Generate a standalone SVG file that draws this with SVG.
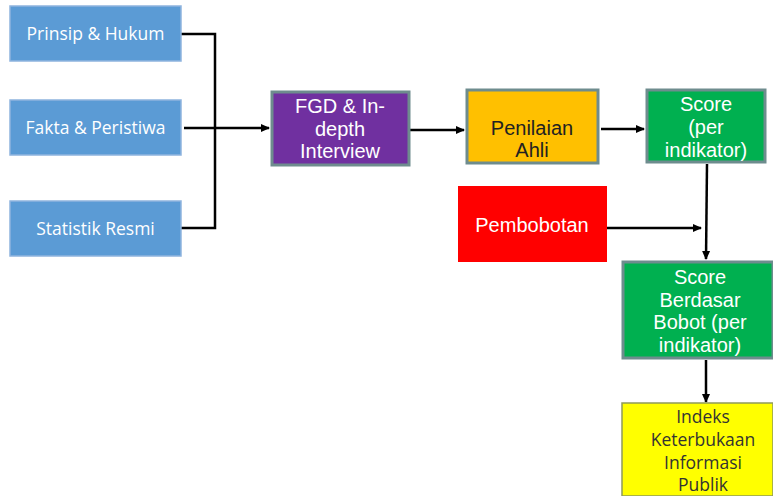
<svg xmlns="http://www.w3.org/2000/svg" width="773" height="496" viewBox="0 0 773 496">
<style>
.blue{fill:#5B9BD5;stroke:#8FB4DE;stroke-width:1.5}
.st{stroke:#6E8C8E;stroke-width:3}
.tw{fill:#fff;font-family:"Open Sans","Liberation Sans",sans-serif;font-size:17.5px;text-anchor:middle}
.ta{fill:#fff;font-family:"Liberation Sans",Arial,sans-serif;font-size:20px;text-anchor:middle}
.tk{fill:#222;font-family:"Liberation Sans",Arial,sans-serif;font-size:20px;text-anchor:middle}
.ty{fill:#333;font-family:"Open Sans","Liberation Sans",sans-serif;font-size:17.5px;text-anchor:middle}
.ln{fill:none;stroke:#000;stroke-width:2.5}
</style>
<defs>
<marker id="ah" markerWidth="10" markerHeight="10" refX="8" refY="5" orient="auto" markerUnits="userSpaceOnUse">
<path d="M0,1 L9,5 L0,9 Z" fill="#000"/>
</marker>
</defs>
<rect width="773" height="496" fill="#fff"/>
<g id="connectors">
<path class="ln" d="M181,34 H215 V228 H181" stroke-width="3.5"/>
<path class="ln" d="M184,128 H269" marker-end="url(#ah)"/>
<path class="ln" d="M410,130 H464" marker-end="url(#ah)"/>
<path class="ln" d="M601,129 H644" marker-end="url(#ah)"/>
<path class="ln" d="M707,164 L706,259" marker-end="url(#ah)"/>
<path class="ln" d="M607,228 H701" marker-end="url(#ah)"/>
<path class="ln" d="M706,360 V402" marker-end="url(#ah)"/>
</g>
<g id="prinsip"><rect class="blue" x="10" y="6" width="171" height="55"/><text class="tw" x="95.5" y="40">Prinsip &amp; Hukum</text></g>
<g id="fakta"><rect class="blue" x="10" y="100" width="171" height="55"/><text class="tw" x="95.5" y="134">Fakta &amp; Peristiwa</text></g>
<g id="statistik"><rect class="blue" x="10" y="201" width="171" height="55"/><text class="tw" x="95.5" y="235">Statistik Resmi</text></g>
<g id="fgd"><rect x="272" y="92" width="137" height="73" fill="#7030A0" class="st"/>
<text class="ta" x="340" y="113">FGD &amp; In-</text><text class="ta" x="340" y="136">depth</text><text class="ta" x="340" y="158">Interview</text></g>
<g id="penilaian"><rect x="467" y="90" width="131" height="73" fill="#FFC000" class="st"/>
<text class="tk" x="532" y="135">Penilaian</text><text class="tk" x="532" y="157">Ahli</text></g>
<g id="score"><rect x="647" y="90" width="118" height="72" fill="#00B050" class="st"/>
<text class="ta" x="706" y="111">Score</text><text class="ta" x="706" y="134">(per</text><text class="ta" x="706" y="157">indikator)</text></g>
<g id="pembobotan"><rect x="458" y="186" width="149" height="76" fill="#FF0000"/>
<text class="ta" x="532" y="232">Pembobotan</text></g>
<g id="scoreberdasar"><rect x="623" y="262" width="150" height="96" fill="#00B050" class="st"/>
<text class="ta" x="700" y="284">Score</text><text class="ta" x="700" y="307">Berdasar</text><text class="ta" x="700" y="329">Bobot (per</text><text class="ta" x="700" y="352">indikator)</text></g>
<g id="indeks"><rect x="622" y="403" width="151" height="93" fill="#FFFF00" stroke="#8E9A5A" stroke-width="1.5"/>
<text class="ty" x="703" y="423">Indeks</text><text class="ty" x="703" y="446">Keterbukaan</text><text class="ty" x="703" y="469">Informasi</text><text class="ty" x="703" y="491">Publik</text></g>
</svg>
